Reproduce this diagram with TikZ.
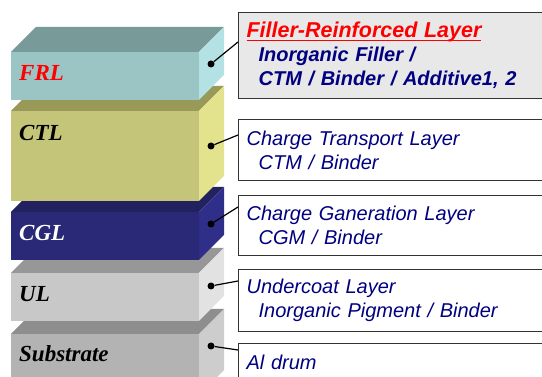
\documentclass[tikz,border=0pt]{standalone}
\usepackage{fontspec}
\setmainfont{Liberation Serif}
\setsansfont{Liberation Sans}
\usepackage{tikz}
\definecolor{frlfront}{HTML}{9BC4C4}
\definecolor{frltop}{HTML}{789A98}
\definecolor{frlside}{HTML}{B4E1E3}
\definecolor{ctlfront}{HTML}{C5C57A}
\definecolor{ctltop}{HTML}{999958}
\definecolor{ctlside}{HTML}{E3E38D}
\definecolor{cglfront}{HTML}{292977}
\definecolor{cgltop}{HTML}{222260}
\definecolor{cglside}{HTML}{2F2F8A}
\definecolor{ulfront}{HTML}{C8C8C8}
\definecolor{ultop}{HTML}{979797}
\definecolor{ulside}{HTML}{E2E2E2}
\definecolor{subfront}{HTML}{B3B3B3}
\definecolor{subtop}{HTML}{8E8E8E}
\definecolor{subside}{HTML}{CDCDCD}
\definecolor{labnavy}{HTML}{000080}
\definecolor{boxgray}{HTML}{E8E8E8}
\newcommand{\layerblock}[5]{%
  \fill[#3] (11,#1) rectangle (199,#2);
  \fill[#4] (11,#1) -- (36,#1-25) -- (224,#1-25) -- (199,#1) -- cycle;
  \fill[#5] (199,#1) -- (224,#1-25) -- (224,#2-25) -- (199,#2) -- cycle;
}
\newcommand{\redline}[1]{%
  \sbox0{#1}\rlap{\rule[-3.5pt]{\wd0}{1.8pt}}\usebox0}

\begin{document}
\begin{tikzpicture}[
    x=1pt, y=-1pt,
    lab/.style={anchor=base west, inner sep=0pt,
      font=\fontsize{23}{26}\selectfont\bfseries\itshape},
    infobox/.style={
      draw=black!80, line width=1.2pt, fill=white, anchor=north west,
      align=left, text width=310pt, inner xsep=8pt, inner ysep=0pt,
      font=\sffamily\itshape\fontsize{20}{24}\selectfont, text=labnavy
    },
    dot/.style={circle, fill=black, inner sep=0pt, minimum size=7pt},
    lead/.style={line width=1.2pt, black},
  ]
    \useasboundingbox (0,0) rectangle (542,377);
    \clip (0,0) rectangle (542,377);
    \layerblock{334}{395}{subfront}{subtop}{subside}
    \layerblock{273}{321}{ulfront}{ultop}{ulside}
    \layerblock{212}{260}{cglfront}{cgltop}{cglside}
    \layerblock{111}{201}{ctlfront}{ctltop}{ctlside}
    \layerblock{52}{100}{frlfront}{frltop}{frlside}
    \node[lab, text=red] (frl) at (19,81) {FRL};
    \node[lab] (ctl) at (19,141) {CTL};
    \node[lab, text=white] (cgl) at (19,241) {CGL};
    \node[lab] (ul) at (19,302) {UL};
    \node[lab] (sub) at (19,362) {Substrate};
    \node[dot] (frldot) at (211,64) {};
    \node[dot] (ctldot) at (211,146) {};
    \node[dot] (cgldot) at (211,224) {};
    \node[dot] (uldot) at (211,286) {};
    \node[dot] (subdot) at (211,346) {};
    \node[infobox, fill=boxgray, minimum height=86pt] (frlbox) at (238,12) {%
      \textcolor{red}{\fontsize{21.5}{24}\selectfont\bfseries\redline{Filler-Reinforced Layer}}\\
      \hspace*{12pt}\bfseries Inorganic Filler /\\
      \hspace*{12pt}\bfseries CTM / Binder / Additive1, 2};
    \node[infobox, minimum height=61pt] (ctlbox) at (238,119) {%
      Charge Transport Layer\\
      \hspace*{12pt}CTM / Binder};
    \node[infobox, minimum height=60pt] (cglbox) at (238,195) {%
      Charge Ganeration Layer\\
      \hspace*{12pt}CGM / Binder};
    \node[infobox, minimum height=62pt] (ulbox) at (238,269) {%
      Undercoat Layer\\
      \hspace*{12pt}Inorganic Pigment / Binder};
    \node[infobox, minimum height=38pt] (subbox) at (238,343) {Al drum};
    \draw[lead] (frldot) -- ([yshift=-30pt]frlbox.north west);
    \draw[lead] (ctldot) -- ([yshift=-16pt]ctlbox.north west);
    \draw[lead] (cgldot) -- ([yshift=-12pt]cglbox.north west);
    \draw[lead] (uldot) -- ([yshift=-12pt]ulbox.north west);
    \draw[lead] (subdot) -- ([yshift=-7pt]subbox.north west);
\end{tikzpicture}
\end{document}
